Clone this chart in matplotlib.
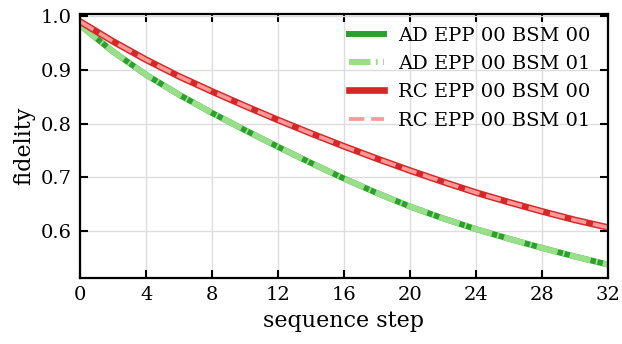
import matplotlib
matplotlib.use("Agg")
import matplotlib.pyplot as plt

plt.rcParams['font.family'] = 'DejaVu Serif'

steps = [0, 2, 4, 6, 8, 10, 12, 14, 16, 18, 20, 22, 24, 26, 28, 30, 32]
ad_bsm00 = [0.983, 0.934, 0.891, 0.854, 0.820, 0.788, 0.757, 0.727, 0.698,
            0.671, 0.646, 0.624, 0.604, 0.586, 0.569, 0.553, 0.538]
ad_bsm01 = [0.983, 0.934, 0.891, 0.854, 0.820, 0.788, 0.757, 0.727, 0.698,
            0.671, 0.646, 0.624, 0.604, 0.586, 0.569, 0.553, 0.538]
rc_bsm00 = [0.990, 0.953, 0.919, 0.888, 0.860, 0.833, 0.807, 0.782, 0.758,
            0.735, 0.713, 0.692, 0.672, 0.654, 0.637, 0.621, 0.607]
rc_bsm01 = [0.990, 0.953, 0.919, 0.888, 0.860, 0.833, 0.807, 0.782, 0.758,
            0.735, 0.713, 0.692, 0.672, 0.654, 0.637, 0.621, 0.607]

fig, ax = plt.subplots(figsize=(6.22, 3.44), dpi=100)
fig.subplots_adjust(left=0.129, right=0.977, top=0.959, bottom=0.192)

ax.plot(steps, ad_bsm00, color='#2ca02c', lw=4.3, label='AD EPP 00 BSM 00')
ax.plot(steps, ad_bsm01, color='#98df8a', lw=4.3,
        ls=(0, (3.6, 0.9, 0.3, 0.9)), label='AD EPP 00 BSM 01')
ax.plot(steps, rc_bsm00, color='#d62728', lw=4.8, label='RC EPP 00 BSM 00')
ax.plot(steps, rc_bsm01, color='#ff9896', lw=2.7,
        ls=(0, (4.1, 1.8)), label='RC EPP 00 BSM 01')

ax.set_xlim(0, 32)
ax.set_ylim(0.513, 1.004)
ax.set_xticks(range(0, 33, 4))
ax.set_yticks([0.6, 0.7, 0.8, 0.9, 1.0])
ax.grid(True, color='#dddddd', lw=1)
ax.set_axisbelow(True)
ax.tick_params(direction='in', length=6, width=1.5, top=True, right=True,
               labelsize=14, pad=6)
for s in ax.spines.values():
    s.set_linewidth(1.6)

ax.set_xlabel('sequence step', fontsize=16)
ax.set_ylabel('fidelity', fontsize=16)
ax.legend(loc='upper right', bbox_to_anchor=(1.0, 1.019), frameon=False,
          fontsize=14, handlelength=1.8, handletextpad=0.7,
          borderaxespad=0.5, labelspacing=0.53)

fig.savefig('out.png')
